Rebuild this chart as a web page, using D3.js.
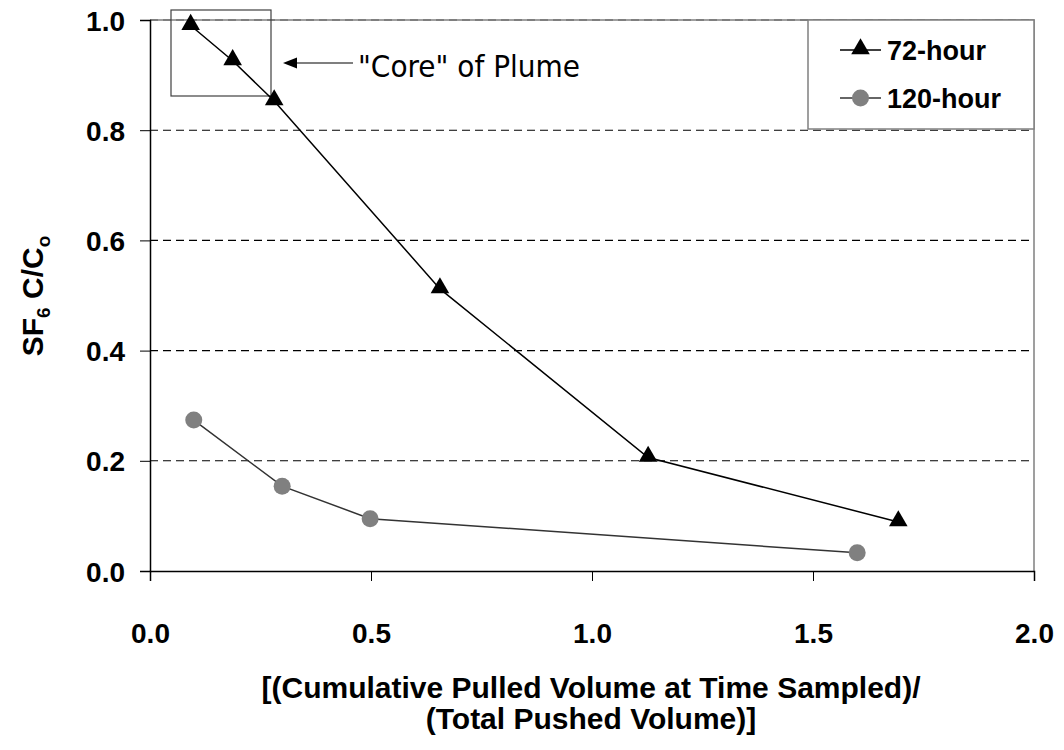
<!DOCTYPE html>
<html>
<head>
<meta charset="utf-8">
<script src="https://cdn.jsdelivr.net/npm/d3@7"></script>
<style>
  body { margin: 0; background: #fff; }
  svg { display: block; }
</style>
</head>
<body>
<svg id="chart" width="1064" height="750"></svg>
<script>
// Breakthrough data: SF6 relative concentration vs. pulled/pushed volume ratio
const series72 = [
  { x: 0.092, y: 0.990 },
  { x: 0.187, y: 0.926 },
  { x: 0.281, y: 0.853 },
  { x: 0.656, y: 0.512 },
  { x: 1.127, y: 0.206 },
  { x: 1.693, y: 0.089 }
];
const series120 = [
  { x: 0.099, y: 0.274 },
  { x: 0.299, y: 0.154 },
  { x: 0.498, y: 0.095 },
  { x: 1.600, y: 0.033 }
];
const xTicks = [0.0, 0.5, 1.0, 1.5, 2.0];
const yTicks = [0.0, 0.2, 0.4, 0.6, 0.8, 1.0];
const legendLabels = ["72-hour", "120-hour"];
const xTitle = ["[(Cumulative Pulled Volume at Time Sampled)/", "(Total Pushed Volume)]"];
const coreNote = "\"Core\" of Plume";

const svg = d3.select("#chart");
const plotL = 150, plotR = 1034, plotT = 20, plotB = 571;
const boldFont = "Liberation Sans, Arial, sans-serif";

const x = d3.scaleLinear().domain([0, 2]).range([plotL, plotR]);
const y = d3.scaleLinear().domain([0, 1]).range([plotB, plotT]);

// dashed horizontal gridlines
svg.append("g").selectAll("line")
  .data(yTicks.filter(d => d > 0))
  .join("line")
  .attr("x1", plotL).attr("x2", plotR)
  .attr("y1", d => y(d)).attr("y2", d => y(d))
  .attr("stroke", "#000").attr("stroke-width", 1.1)
  .attr("stroke-dasharray", "8,5");

// plot area frame (top and right)
svg.append("path")
  .attr("d", `M${plotL},${plotT}H${plotR}V${plotB}`)
  .attr("fill", "none").attr("stroke", "#808080").attr("stroke-width", 1.5);

// axes
const xAxis = svg.append("g")
  .attr("transform", `translate(0,${plotB})`)
  .call(d3.axisBottom(x).tickValues(xTicks).tickFormat(d3.format(".1f")).tickSize(10).tickPadding(42));
const yAxis = svg.append("g")
  .attr("transform", `translate(${plotL},0)`)
  .call(d3.axisLeft(y).tickValues(yTicks).tickFormat(d3.format(".1f")).tickSize(10).tickPadding(15));
[xAxis, yAxis].forEach(g => {
  g.select(".domain").attr("stroke", "#000").attr("stroke-width", 1.5);
  g.selectAll(".tick line").attr("stroke", "#000").attr("stroke-width", 1);
  g.selectAll(".tick text")
    .attr("font-family", boldFont).attr("font-weight", "bold")
    .attr("font-size", 28).attr("fill", "#000");
});
yAxis.selectAll(".tick text").attr("dy", "0.36em");

// "core" highlight box and annotation
svg.append("rect")
  .attr("x", 171).attr("y", 10).attr("width", 100).attr("height", 86)
  .attr("fill", "none").attr("stroke", "#404040").attr("stroke-width", 1.2);
svg.append("line")
  .attr("x1", 292).attr("x2", 353).attr("y1", 63).attr("y2", 63)
  .attr("stroke", "#000").attr("stroke-width", 1.2);
svg.append("path")
  .attr("d", "M283,63L297,57.5L297,68.5Z").attr("fill", "#000");
svg.append("text")
  .attr("x", 358).attr("y", 77)
  .attr("font-family", "DejaVu Sans Condensed, DejaVu Sans, sans-serif")
  .attr("font-size", 31)
  .attr("textLength", 222)
  .attr("lengthAdjust", "spacingAndGlyphs")
  .text(coreNote);

const line = d3.line().x(d => x(d.x)).y(d => y(d.y));
const tri = d3.symbol().type(d3.symbolTriangle).size(150);

// 120-hour series
svg.append("path").datum(series120)
  .attr("d", line).attr("fill", "none")
  .attr("stroke", "#333").attr("stroke-width", 1.5);
svg.append("g").selectAll("circle").data(series120).join("circle")
  .attr("cx", d => x(d.x)).attr("cy", d => y(d.y)).attr("r", 8.5)
  .attr("fill", "#808080");

// 72-hour series
svg.append("path").datum(series72)
  .attr("d", line).attr("fill", "none")
  .attr("stroke", "#000").attr("stroke-width", 1.5);
svg.append("g").selectAll("path").data(series72).join("path")
  .attr("transform", d => `translate(${x(d.x)},${y(d.y) - 1})`)
  .attr("d", tri).attr("fill", "#000");

// legend
const lg = svg.append("g");
lg.append("rect")
  .attr("x", 808).attr("y", 20).attr("width", 226).attr("height", 109)
  .attr("fill", "#fff").attr("stroke", "#808080").attr("stroke-width", 1.5);
const rows = [50, 98];
rows.forEach((ry, i) => {
  lg.append("line").attr("x1", 840).attr("x2", 881).attr("y1", ry).attr("y2", ry)
    .attr("stroke", i === 0 ? "#000" : "#333").attr("stroke-width", 1.5);
  if (i === 0) {
    lg.append("path").attr("transform", `translate(860.5,${ry - 1})`).attr("d", tri).attr("fill", "#000");
  } else {
    lg.append("circle").attr("cx", 860.5).attr("cy", ry).attr("r", 8.5).attr("fill", "#808080");
  }
  lg.append("text").attr("x", 887).attr("y", ry + 10)
    .attr("font-family", boldFont)
    .attr("font-weight", "bold").attr("font-size", 27)
    .text(legendLabels[i]);
});

// y-axis title with subscripts
const yt = svg.append("text")
  .attr("transform", "translate(43,296) rotate(-90)")
  .attr("text-anchor", "middle")
  .attr("font-family", boldFont)
  .attr("font-weight", "bold").attr("font-size", 30);
yt.append("tspan").text("SF");
yt.append("tspan").attr("font-size", 19).attr("dy", 7).text("6");
yt.append("tspan").attr("dy", -7).text(" C/C");
yt.append("tspan").attr("font-size", 19).attr("dy", 7).text("o");

// x-axis title
xTitle.forEach((t, i) => {
  svg.append("text")
    .attr("x", 591).attr("y", 698 + i * 31)
    .attr("text-anchor", "middle")
    .attr("font-family", boldFont)
    .attr("font-weight", "bold").attr("font-size", 30)
    .text(t);
});
</script>
</body>
</html>
